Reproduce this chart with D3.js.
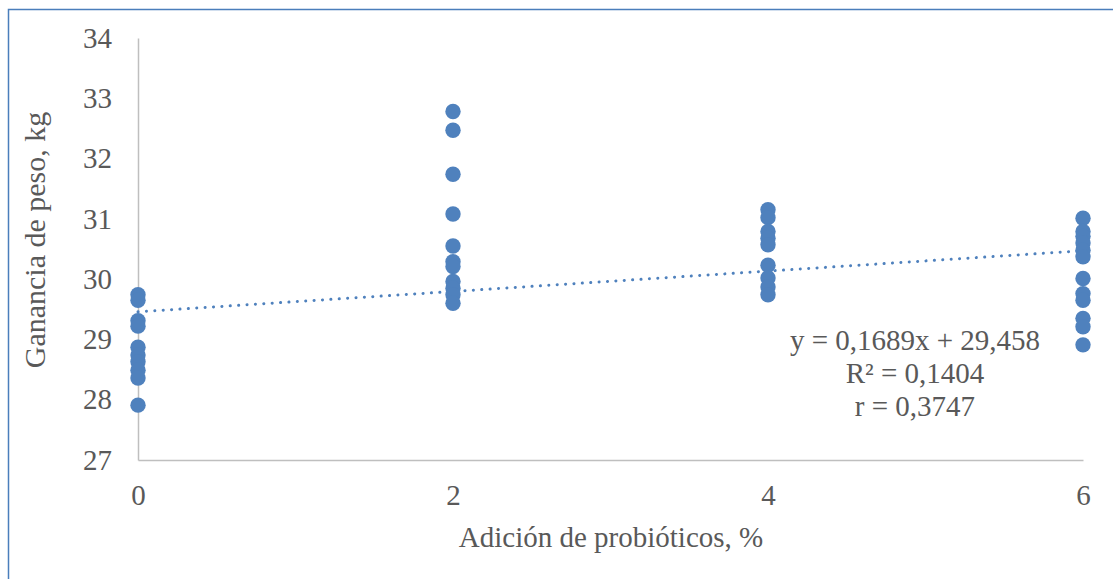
<!DOCTYPE html>
<html><head><meta charset="utf-8">
<script src="https://cdn.jsdelivr.net/npm/d3@7"></script>
<style>body{margin:0;background:#fff}svg{display:block}</style>
</head><body>
<svg id="c" width="1113" height="579"></svg>
<script>
const xTicks = [0, 2, 4, 6];
const yTicks = [27, 28, 29, 30, 31, 32, 33, 34];
const dose0 = [29.74, 29.65, 29.31, 29.22, 28.87, 28.74, 28.63, 28.49, 28.36, 27.91];
const dose2 = [32.78, 32.47, 31.74, 31.08, 30.55, 30.29, 30.21, 29.96, 29.85, 29.74, 29.60];
const dose4 = [31.15, 31.02, 30.79, 30.68, 30.57, 30.23, 30.02, 29.87, 29.74];
const dose6 = [31.01, 30.79, 30.71, 30.60, 30.48, 30.37, 30.01, 29.76, 29.65, 29.35, 29.21, 28.91];
const slope = 0.1689, intercept = 29.458;
const eqLines = ["y = 0,1689x + 29,458", "R² = 0,1404", "r = 0,3747"];
const xTitle = "Adición de probióticos, %";
const yTitle = "Ganancia de peso, kg";

const svg = d3.select("#c");
const font = "'Liberation Serif','Times New Roman',serif";
const txt = "#595959";
const blue = "#4f81bd";

svg.append("rect").attr("x", 8.5).attr("y", 9.5).attr("width", 1200).attr("height", 700)
  .attr("fill", "none").attr("stroke", "#4a7ebb").attr("stroke-width", 1.5);

const x = d3.scaleLinear().domain([0, 6]).range([138, 1083]);
const y = d3.scaleLinear().domain([27, 34]).range([460, 38]);

const gx = svg.append("g").attr("transform", "translate(0,460)")
  .call(d3.axisBottom(x).tickValues(xTicks).tickSize(0).tickPadding(24).tickFormat(d3.format("d")));
const gy = svg.append("g").attr("transform", "translate(138,0)")
  .call(d3.axisLeft(y).tickValues(yTicks).tickSize(0).tickPadding(26).tickFormat(d3.format("d")));
[gx, gy].forEach(g => {
  g.select(".domain").attr("stroke", "#bfbfbf").attr("stroke-width", 1.5);
  g.selectAll("text").attr("fill", txt).style("font-family", font).style("font-size", "29px");
});

const pts = [];
[[0, dose0], [2, dose2], [4, dose4], [6, dose6]].forEach(([d, arr]) => arr.forEach(v => pts.push([d, v])));

svg.append("line")
  .attr("x1", x(0)).attr("y1", y(intercept))
  .attr("x2", x(6)).attr("y2", y(intercept + slope * 6))
  .attr("stroke", blue).attr("stroke-width", 3).attr("stroke-linecap", "round")
  .attr("stroke-dasharray", "0.1 8.3");

svg.append("g").selectAll("circle").data(pts).join("circle")
  .attr("cx", d => x(d[0])).attr("cy", d => y(d[1])).attr("r", 7.7)
  .attr("fill", blue);

svg.append("g").selectAll("text").data(eqLines).join("text")
  .attr("x", 915).attr("y", (d, i) => 350 + i * 33)
  .attr("text-anchor", "middle").attr("fill", txt)
  .style("font-family", font).style("font-size", "29px").text(d => d);

svg.append("text").attr("x", 611).attr("y", 547).attr("text-anchor", "middle")
  .attr("fill", txt).style("font-family", font).style("font-size", "29px").text(xTitle);
svg.append("text").attr("transform", "translate(45,240) rotate(-90)").attr("text-anchor", "middle")
  .attr("fill", txt).style("font-family", font).style("font-size", "30px").text(yTitle);
</script>
</body></html>
